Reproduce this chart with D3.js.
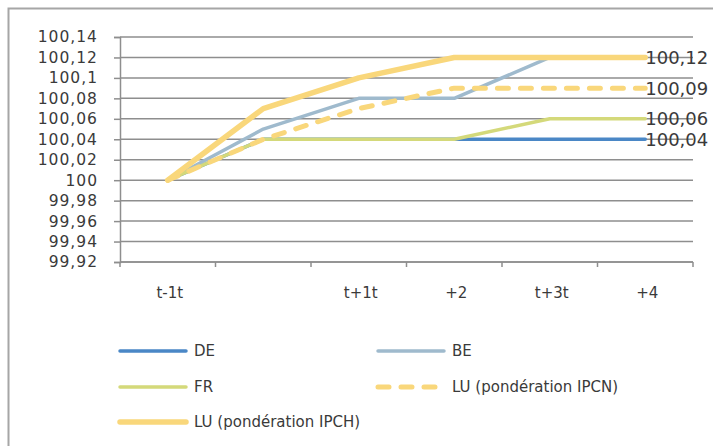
<!DOCTYPE html>
<html>
<head>
<meta charset="utf-8">
<script src="https://cdn.jsdelivr.net/npm/d3@7"></script>
<style>
  body { margin: 0; background: #fff; }
  svg { display: block; font-family: "DejaVu Sans", sans-serif; }
</style>
</head>
<body>
<div id="chart"></div>
<script>
const categories = ['t-1t', '', 't+1t', '+2', 't+3t', '+4'];
const yTicks = [99.92, 99.94, 99.96, 99.98, 100, 100.02, 100.04, 100.06, 100.08, 100.1, 100.12, 100.14];

const DE = [100, 100.04, 100.04, 100.04, 100.04, 100.04];
const BE = [100, 100.05, 100.08, 100.08, 100.12, 100.12];
const FR = [100, 100.04, 100.04, 100.04, 100.06, 100.06];
const LU_IPCN = [100, 100.04, 100.07, 100.09, 100.09, 100.09];
const LU_IPCH = [100, 100.07, 100.10, 100.12, 100.12, 100.12];

const series = [
  { name: 'DE', values: DE, color: '#4a87c6', width: 3.5 },
  { name: 'BE', values: BE, color: '#9fbacd', width: 3.5 },
  { name: 'FR', values: FR, color: '#d4d97a', width: 3.5 },
  { name: 'LU (pondération IPCN)', values: LU_IPCN, color: '#f9d77b', width: 5, dash: '11,12' },
  { name: 'LU (pondération IPCH)', values: LU_IPCH, color: '#f9d77b', width: 5.5 }
];
// which series get an end label
const endLabelled = ['LU (pondération IPCH)', 'LU (pondération IPCN)', 'FR', 'DE'];

const W = 713, H = 446;
const m = { left: 120, right: 693, top: 37, bottom: 262 };

const svg = d3.select('#chart').append('svg')
  .attr('width', W).attr('height', H);

// outer frame
svg.append('rect')
  .attr('x', 8.5).attr('y', 8.5)
  .attr('width', 730).attr('height', 460)
  .attr('fill', 'none').attr('stroke', '#a6a6a6').attr('stroke-width', 2);

const x = d3.scaleBand().domain(d3.range(categories.length)).range([m.left, m.right]);
const y = d3.scaleLinear().domain([99.92, 100.14]).range([m.bottom, m.top]);
const fmt = d => String(+d.toFixed(2)).replace('.', ',');

// grid
svg.append('g').attr('class', 'grid')
  .selectAll('line').data(yTicks).enter().append('line')
  .attr('x1', m.left).attr('x2', m.right)
  .attr('y1', d => y(d)).attr('y2', d => y(d))
  .attr('stroke', '#8e8e8e').attr('stroke-width', 1.5);

// y axis
const yAxis = svg.append('g')
  .attr('transform', `translate(${m.left},0)`)
  .call(d3.axisLeft(y).tickValues(yTicks).tickFormat(fmt).tickSize(6).tickPadding(16));
yAxis.select('.domain').attr('stroke', '#8e8e8e').attr('stroke-width', 1.5);
yAxis.selectAll('.tick line').attr('stroke', '#8e8e8e').attr('stroke-width', 1.5);
yAxis.selectAll('.tick text')
  .attr('font-size', 15.5).attr('fill', '#3a3a3a')
  .attr('letter-spacing', 1)
  .attr('font-family', '"DejaVu Sans", sans-serif');

// x axis (ticks between categories)
const xEdges = d3.range(categories.length + 1).map(i => m.left + i * x.step());
const xAxis = svg.append('g').attr('class', 'x axis');
xAxis.append('line')
  .attr('x1', m.left).attr('x2', m.right)
  .attr('y1', m.bottom).attr('y2', m.bottom)
  .attr('stroke', '#8e8e8e').attr('stroke-width', 1.5);
xAxis.selectAll('line.tk').data(xEdges).enter().append('line')
  .attr('class', 'tk')
  .attr('x1', d => d).attr('x2', d => d)
  .attr('y1', m.bottom).attr('y2', m.bottom + 5)
  .attr('stroke', '#8e8e8e').attr('stroke-width', 1.5);
xAxis.selectAll('text').data(categories).enter().append('text')
  .attr('x', (d, i) => x(i) + x.bandwidth() / 2 + 2)
  .attr('y', 293)
  .attr('dy', '0.35em')
  .attr('text-anchor', 'middle')
  .attr('font-size', 15).attr('fill', '#3a3a3a')
  .text(d => d);

// lines
const line = d3.line()
  .x((d, i) => x(i) + x.bandwidth() / 2)
  .y(d => y(d));

svg.append('g').attr('class', 'lines')
  .selectAll('path').data(series).enter().append('path')
  .attr('d', d => line(d.values))
  .attr('fill', 'none')
  .attr('stroke', d => d.color)
  .attr('stroke-width', d => d.width)
  .attr('stroke-dasharray', d => d.dash || null)
  .attr('stroke-linecap', 'round')
  .attr('stroke-linejoin', 'round');

// end labels
const last = categories.length - 1;
svg.append('g').attr('class', 'end-labels')
  .selectAll('text').data(series.filter(s => endLabelled.includes(s.name))).enter().append('text')
  .attr('x', x(last) + x.bandwidth() / 2)
  .attr('y', d => y(d.values[last]))
  .attr('dy', '0.36em')
  .attr('font-size', 18).attr('fill', '#3a3a3a')
  .text(d => fmt(d.values[last]));

// legend
const legendPos = [
  { x: 118, y: 351 }, { x: 376, y: 351 },
  { x: 118, y: 387 }, { x: 376, y: 387 },
  { x: 118, y: 422 }
];
const leg = svg.append('g').attr('class', 'legend')
  .selectAll('g').data(series).enter().append('g')
  .attr('transform', (d, i) => `translate(${legendPos[i].x},${legendPos[i].y})`);
leg.append('line')
  .attr('x1', 2).attr('x2', 68)
  .attr('stroke', d => d.color)
  .attr('stroke-width', d => d.width)
  .attr('stroke-dasharray', d => d.dash || null)
  .attr('stroke-linecap', 'round');
leg.append('text')
  .attr('x', 76).attr('dy', '0.35em')
  .attr('font-size', 15).attr('fill', '#3a3a3a')
  .text(d => d.name);
</script>
</body>
</html>
